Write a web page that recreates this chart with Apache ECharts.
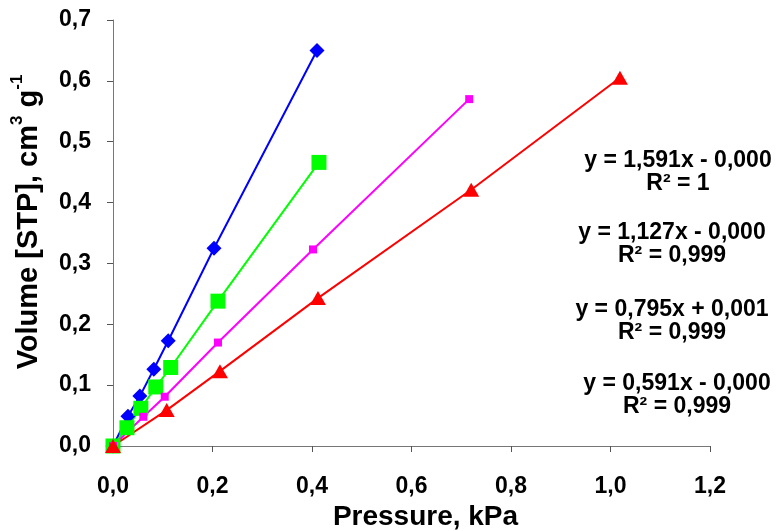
<!DOCTYPE html>
<html>
<head>
<meta charset="utf-8">
<script src="https://cdn.jsdelivr.net/npm/echarts@6/dist/echarts.min.js"></script>
<style>html,body{margin:0;padding:0;background:#fff}#c{width:783px;height:531px}</style>
</head>
<body>
<div id="c"></div>
<script>
var blueX = [0, 0.030, 0.054, 0.082, 0.111, 0.203, 0.410];
var blueY = [0, 0.049, 0.082, 0.126, 0.173, 0.325, 0.650];
var greenX = [0, 0.028, 0.056, 0.086, 0.116, 0.211, 0.414];
var greenY = [0, 0.030, 0.062, 0.097, 0.129, 0.238, 0.466];
var magentaX = [0, 0.061, 0.104, 0.211, 0.402, 0.716];
var magentaY = [0, 0.048, 0.081, 0.170, 0.323, 0.570];
var redX = [0, 0.108, 0.215, 0.412, 0.720, 1.019];
var redY = [0, 0.059, 0.123, 0.243, 0.421, 0.605];
var equations = ['y = 1,591x - 0,000', 'y = 1,127x - 0,000', 'y = 0,795x + 0,001', 'y = 0,591x - 0,000'];
var r2Labels = ['R² = 1', 'R² = 0,999', 'R² = 0,999', 'R² = 0,999'];
var xTitle = 'Pressure, kPa';
var yTitle = '{a|Volume [STP], cm}{s|3}{a| g}{s|-1}';

var FONT = "'Liberation Sans', Arial, sans-serif";
function pairs(xs, ys) { return xs.map(function (x, i) { return [x, ys[i]]; }); }
function fmt(v) { return v.toFixed(1).replace('.', ','); }

var eqY = [161, 233, 310, 384];
var eqX = [678, 672, 672, 677];
var graphics = [];
equations.forEach(function (t, i) {
  graphics.push({ type: 'text', x: eqX[i], y: eqY[i], style: { text: t, font: 'bold 23px ' + FONT, fill: '#000', textAlign: 'center', textVerticalAlign: 'middle' } });
  graphics.push({ type: 'text', x: eqX[i], y: eqY[i] + 23, style: { text: r2Labels[i], font: 'bold 23px ' + FONT, fill: '#000', textAlign: 'center', textVerticalAlign: 'middle' } });
});
graphics.push({
  type: 'text', x: 26, y: 222, rotation: Math.PI / 2,
  style: {
    text: yTitle, textAlign: 'center', textVerticalAlign: 'middle', fill: '#000',
    rich: {
      a: { fontFamily: FONT, fontWeight: 'bold', fontSize: 29, fill: '#000', lineHeight: 34, verticalAlign: 'bottom' },
      s: { fontFamily: FONT, fontWeight: 'bold', fontSize: 17, fill: '#000', lineHeight: 34, verticalAlign: 'top', padding: [0, 0, 10, 0] }
    }
  }
});

function ser(name, xs, ys, color, symbol, size) {
  return {
    name: name, type: 'line', data: pairs(xs, ys), symbol: symbol, symbolSize: size,
    showAllSymbol: true, animation: false,
    lineStyle: { color: color, width: 2 }, itemStyle: { color: color }
  };
}

var chart = echarts.init(document.getElementById('c'));
chart.setOption({
  backgroundColor: '#fff',
  animation: false,
  grid: { left: 113, top: 20, right: 73, bottom: 85, containLabel: false, outerBoundsMode: 'none' },
  xAxis: {
    type: 'value', min: 0, max: 1.2, interval: 0.2,
    name: xTitle, nameLocation: 'middle', nameGap: 52,
    nameTextStyle: { fontFamily: FONT, fontWeight: 'bold', fontSize: 28, color: '#000', padding: [0, 0, 0, 28] },
    axisLine: { lineStyle: { color: '#777', width: 1 } },
    axisTick: { show: true, length: 6, lineStyle: { color: '#555' } },
    axisLabel: { margin: 29, formatter: fmt, fontFamily: FONT, fontWeight: 'bold', fontSize: 23, color: '#000' },
    splitLine: { show: false }
  },
  yAxis: {
    type: 'value', min: 0, max: 0.7, interval: 0.1,
    axisLine: { show: true, lineStyle: { color: '#777', width: 1 } },
    axisTick: { show: true, length: 6, lineStyle: { color: '#555' } },
    axisLabel: { margin: 22, formatter: fmt, fontFamily: FONT, fontWeight: 'bold', fontSize: 23, color: '#000' },
    splitLine: { show: false }
  },
  series: [
    ser('blue', blueX, blueY, '#0000FF', 'diamond', 15),
    ser('green', greenX, greenY, '#00FF00', 'rect', 15),
    ser('magenta', magentaX, magentaY, '#FF00FF', 'rect', 8),
    ser('red', redX, redY, '#FF0000', 'triangle', [16, 14])
  ],
  graphic: graphics
});
</script>
</body>
</html>
